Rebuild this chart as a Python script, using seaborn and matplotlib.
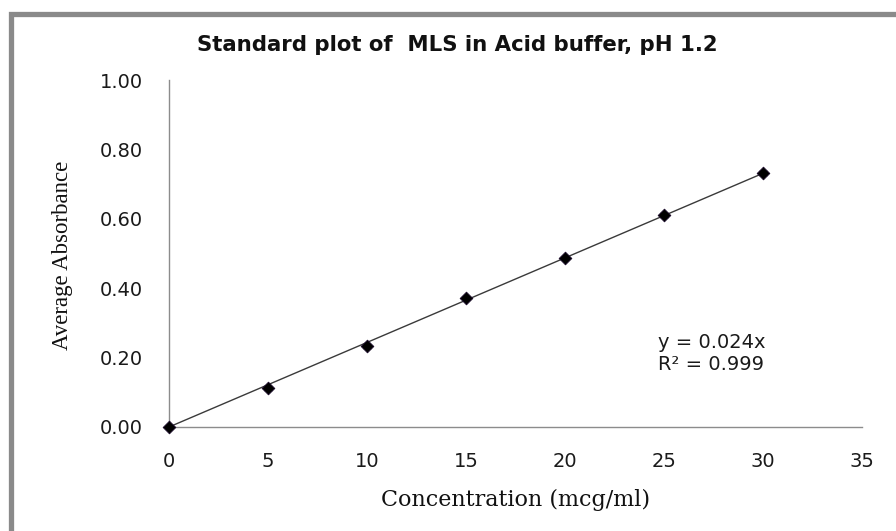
import numpy as np
import pandas as pd
import matplotlib
matplotlib.use("Agg")
import matplotlib.pyplot as plt
from matplotlib.patches import Rectangle
import seaborn as sns

# Data
concentration = [0, 5, 10, 15, 20, 25, 30]
absorbance = [0.000, 0.112, 0.233, 0.372, 0.487, 0.611, 0.732]
abs_sd = [0.002, 0.004, 0.004, 0.004, 0.004, 0.005, 0.006]
x_ticks = [0, 5, 10, 15, 20, 25, 30, 35]
y_ticks = [0.0, 0.2, 0.4, 0.6, 0.8, 1.0]
title = "Standard plot of  MLS in Acid buffer, pH 1.2"
x_label = "Concentration (mcg/ml)"
y_label = "Average Absorbance"
equation = "y = 0.024x\nR² = 0.999"

df = pd.DataFrame({"conc": concentration, "abs": absorbance, "sd": abs_sd})

sns.set_theme(style="white")
plt.rcParams["font.family"] = ["DejaVu Sans"]

fig = plt.figure(figsize=(8.96, 5.31), dpi=100)
fig.patch.set_facecolor("white")
ax = fig.add_axes([169/896, 1-427/531, (862-169)/896, (427-80)/531])

# trendline through origin
x = np.array(concentration, dtype=float)
y = np.array(absorbance, dtype=float)
slope = (x * y).sum() / (x * x).sum()
trend = pd.DataFrame({"conc": [0, max(concentration)],
                      "fit": [0, slope * max(concentration)]})
sns.lineplot(data=trend, x="conc", y="fit", ax=ax, color="#3a3a3a", lw=1.0, zorder=2)

ax.errorbar(df["conc"], df["abs"], yerr=df["sd"], fmt="none", ecolor="black",
            elinewidth=1.0, capsize=3, capthick=1.0, zorder=3, clip_on=False)
sns.scatterplot(data=df, x="conc", y="abs", ax=ax, marker="D", s=42,
                color="black", edgecolor="#1a0a2a", linewidth=0.6, zorder=4,
                clip_on=False)

ax.set_xlim(0, 35)
ax.set_ylim(0, 1.0)
ax.set_xticks(x_ticks)
ax.set_yticks(y_ticks)
ax.set_xticklabels([str(t) for t in x_ticks])
ax.set_yticklabels([f"{t:.2f}" for t in y_ticks])
ax.tick_params(axis="both", which="both", direction="out", width=1,
               color="#8c8c8c", labelsize=14, labelcolor="#1a1a1a")
ax.tick_params(axis="x", length=5, pad=13)
ax.tick_params(axis="y", length=7, pad=12)
for side in ["top", "right"]:
    ax.spines[side].set_visible(False)
for side in ["left", "bottom"]:
    ax.spines[side].set_color("#8c8c8c")
    ax.spines[side].set_linewidth(1.0)
ax.set_xlabel("")
ax.set_ylabel("")
ax.grid(False)

ax.text(24.7, 0.212, equation, fontsize=14, ha="left", va="center",
        color="#1a1a1a", linespacing=1.15)

fig.text(457/896, 1-45/531, title, fontsize=15.3, fontweight="bold",
         ha="center", va="center", color="#111111")
fig.text(516/896, 1-500/531, x_label, fontsize=16, ha="center", va="center",
         family="DejaVu Serif", color="#111111")
fig.text(62/896, 1-255/531, y_label, fontsize=16.5, ha="center", va="center",
         rotation=90, family="Liberation Serif", color="#111111")

# outer frame (only left and top edges visible)
fig.patches.append(Rectangle((10.5/896, -0.2), 1.3, 0.2 + (1-14/531),
                             transform=fig.transFigure, fill=False,
                             edgecolor="#8a8a8a", linewidth=3.8, clip_on=False))

fig.savefig("out.png", dpi=100, facecolor="white")
